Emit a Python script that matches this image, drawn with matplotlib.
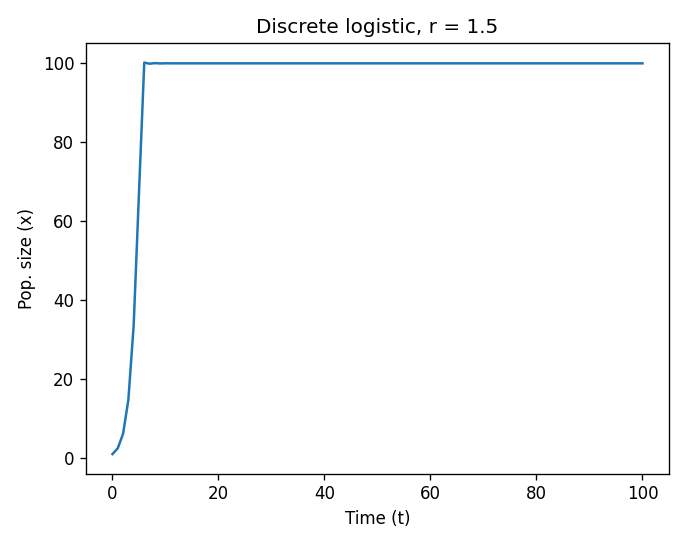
import matplotlib
matplotlib.use("Agg")
import matplotlib.pyplot as plt

t = list(range(101))
x_early = [1.0, 2.485, 6.12, 14.74, 33.59, 67.05, 100.19, 99.90, 100.05, 99.97, 100.01, 100.0]
x = x_early + [100.0] * (101 - len(x_early))

fig, ax = plt.subplots(figsize=(687/120, 546/120), dpi=120)
ax.plot(t, x)
ax.set_title("Discrete logistic, r = 1.5")
ax.set_xlabel("Time (t)")
ax.set_ylabel("Pop. size (x)")
fig.tight_layout()
fig.savefig("out.png", dpi=120)
